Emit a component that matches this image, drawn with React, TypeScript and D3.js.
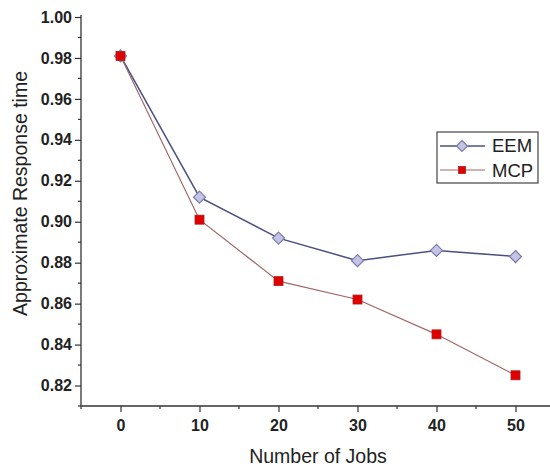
import { useEffect, useRef } from "react";
import * as d3 from "d3";

const jobs = [0, 10, 20, 30, 40, 50];
const eem = [0.981, 0.912, 0.892, 0.881, 0.886, 0.883];
const mcp = [0.981, 0.901, 0.871, 0.862, 0.845, 0.825];
const yTicks = [0.82, 0.84, 0.86, 0.88, 0.9, 0.92, 0.94, 0.96, 0.98, 1.0];
const xTicks = [0, 10, 20, 30, 40, 50];

// square rotated 45deg, r = half diagonal
const diamondPath = (r: number) => `M0,${-r}L${r},0L0,${r}L${-r},0Z`;

export default function App() {
  const ref = useRef<SVGSVGElement | null>(null);

  useEffect(() => {
    if (!ref.current) return;
    const svg = d3.select(ref.current);
    svg.selectAll("*").remove();

    const font = "Arial, 'Liberation Sans', sans-serif";
    const left = 81;
    const bottom = 406;

    const x = d3.scaleLinear().domain([-5, 55]).range([left, left + 60 * 7.9]);
    const y = d3.scaleLinear().domain([0.81, 1.0]).range([bottom, 17]);

    // y axis
    const yAxis = d3.axisLeft(y).tickValues(yTicks).tickFormat(d3.format(".2f")).tickSize(6).tickSizeOuter(0);
    const gy = svg.append("g").attr("transform", `translate(${left},0)`).call(yAxis);
    gy.select(".domain").attr("stroke", "#333").attr("stroke-width", 1.3)
      .attr("d", `M0,${bottom}V${y(1.0) - 2}`);
    gy.selectAll(".tick line").attr("stroke", "#333").attr("stroke-width", 1.2);
    gy.selectAll(".tick text")
      .attr("font-family", font).attr("font-size", 16).attr("font-weight", "bold")
      .attr("fill", "#222").attr("x", -9);
    // minor y ticks
    const yMinor = d3.range(0.81, 1.0, 0.02);
    gy.selectAll(".minor").data(yMinor).join("line")
      .attr("x1", -3).attr("x2", 0)
      .attr("y1", d => y(d)).attr("y2", d => y(d))
      .attr("stroke", "#333").attr("stroke-width", 1.2);

    // x axis
    const xAxis = d3.axisBottom(x).tickValues(xTicks).tickSize(6).tickSizeOuter(0);
    const gx = svg.append("g").attr("transform", `translate(0,${bottom})`).call(xAxis);
    gx.select(".domain").attr("stroke", "#333").attr("stroke-width", 1.3)
      .attr("d", `M${left},0H550`);
    gx.selectAll(".tick line").attr("stroke", "#333").attr("stroke-width", 1.2);
    gx.selectAll(".tick text")
      .attr("font-family", font).attr("font-size", 16).attr("font-weight", "bold")
      .attr("fill", "#222").attr("y", 14);
    const xMinor = [-5, 5, 15, 25, 35, 45];
    gx.selectAll(".minor").data(xMinor).join("line")
      .attr("x1", d => x(d)).attr("x2", d => x(d))
      .attr("y1", 0).attr("y2", 3)
      .attr("stroke", "#333").attr("stroke-width", 1.2);

    // labels
    svg.append("text")
      .attr("transform", `translate(27,${(bottom + 17) / 2 - 18}) rotate(-90)`)
      .attr("text-anchor", "middle")
      .attr("font-family", font).attr("font-size", 19.5).attr("fill", "#222")
      .text("Approximate Response time");
    svg.append("text")
      .attr("x", 318).attr("y", 463)
      .attr("text-anchor", "middle")
      .attr("font-family", font).attr("font-size", 19.5).attr("fill", "#222")
      .text("Number of Jobs");

    const eemData = jobs.map((j, i) => ({ j, v: eem[i] }));
    const mcpData = jobs.map((j, i) => ({ j, v: mcp[i] }));
    const line = d3.line<{ j: number; v: number }>().x(d => x(d.j)).y(d => y(d.v));

    svg.append("path").datum(eemData)
      .attr("fill", "none").attr("stroke", "#4a5080").attr("stroke-width", 1.5).attr("d", line);
    svg.append("path").datum(mcpData)
      .attr("fill", "none").attr("stroke", "#a06868").attr("stroke-width", 1.2).attr("d", line);

    svg.selectAll(".eem").data(eemData).join("path")
      .attr("transform", d => `translate(${x(d.j)},${y(d.v)})`)
      .attr("d", diamondPath(6))
      .attr("fill", "#c4c4e4").attr("stroke", "#7c7cac").attr("stroke-width", 1.2);
    svg.selectAll(".mcp").data(mcpData).join("rect")
      .attr("x", d => x(d.j) - 4.5).attr("y", d => y(d.v) - 4.5)
      .attr("width", 9).attr("height", 9)
      .attr("fill", "#e00000").attr("stroke", "#b02020").attr("stroke-width", 0.8);

    // legend
    const lg = svg.append("g").attr("transform", "translate(437,132)");
    lg.append("rect").attr("width", 101).attr("height", 51)
      .attr("fill", "white").attr("stroke", "#444").attr("stroke-width", 1.2);
    lg.append("line").attr("x1", 3).attr("x2", 48).attr("y1", 14).attr("y2", 14)
      .attr("stroke", "#4a5080").attr("stroke-width", 1.3);
    lg.append("path").attr("transform", "translate(25,14)").attr("d", diamondPath(5.5))
      .attr("fill", "#c4c4e4").attr("stroke", "#7c7cac").attr("stroke-width", 1.2);
    lg.append("line").attr("x1", 3).attr("x2", 48).attr("y1", 38).attr("y2", 38)
      .attr("stroke", "#a06868").attr("stroke-width", 1.2);
    lg.append("rect").attr("x", 21.5).attr("y", 34.5).attr("width", 7).attr("height", 7)
      .attr("fill", "#e00000").attr("stroke", "#b02020").attr("stroke-width", 0.8);
    lg.append("text").attr("x", 55).attr("y", 20)
      .attr("font-family", font).attr("font-size", 18.5).attr("fill", "#222").text("EEM");
    lg.append("text").attr("x", 55).attr("y", 44.5)
      .attr("font-family", font).attr("font-size", 18.5).attr("fill", "#222").text("MCP");
  }, []);

  return (
    <svg ref={ref} width={550} height={470}
      style={{ position: "absolute", left: 0, top: 0, background: "white" }} />
  );
}
